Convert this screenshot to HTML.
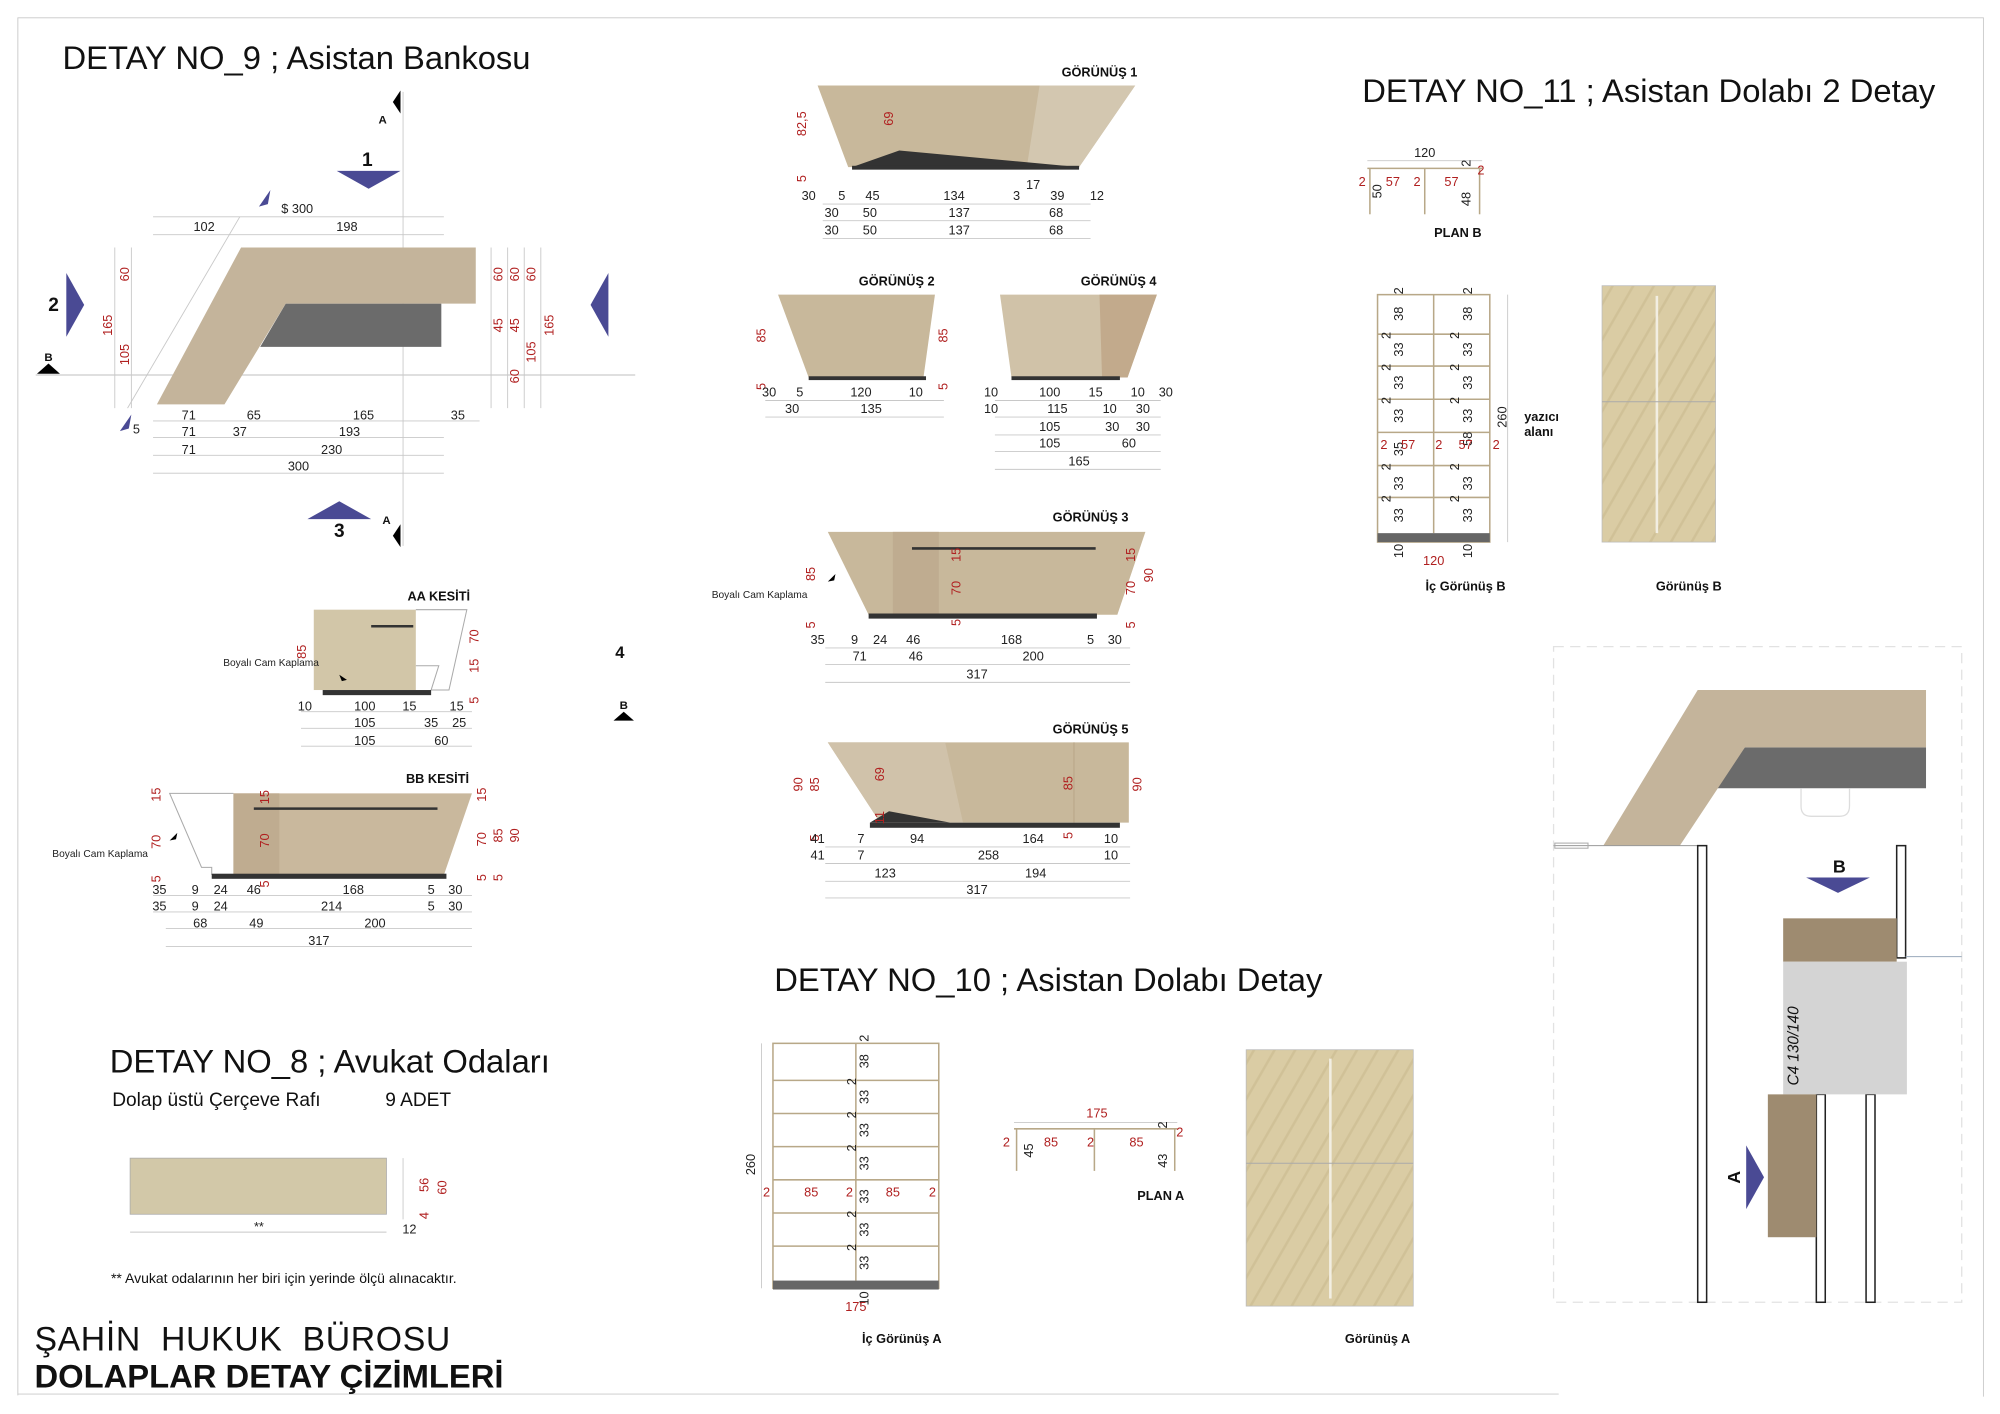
<!DOCTYPE html>
<html><head><meta charset="utf-8"><style>
html,body{margin:0;padding:0;background:#fff}
svg{display:block}
text{font-family:"Liberation Sans",sans-serif}
.d{font-size:10px;text-anchor:middle;fill:#222}
.r{font-size:10px;text-anchor:middle;fill:#b02020}
.b{font-size:10px;font-weight:bold;text-anchor:middle;fill:#111}
.t{font-size:25.7px;fill:#111}
.l{stroke:#c8c8c8;stroke-width:0.7;fill:none}
.bl{fill:#4a4a94}
</style></head><body>
<svg width="2000" height="1414" viewBox="0 0 1568 1108.6" preserveAspectRatio="none" xmlns="http://www.w3.org/2000/svg">
<rect x="0" y="0" width="1568" height="1109" fill="#fff"/>
<path d="M14,1094 V14 H1555 V1095" class="l"/>
<line x1="14" y1="1093" x2="1222" y2="1093" class="l"/>

<!-- DETAY 9 -->
<text x="49" y="54" class="t">DETAY NO_9 ; Asistan Bankosu</text>
<line x1="316" y1="72" x2="316" y2="428" class="l"/>
<line x1="28" y1="294" x2="498" y2="294" stroke="#ccc" stroke-width="1"/>
<polygon points="314,71 308,80 314,89" fill="#000"/><text x="300" y="97" class="b" style="font-size:9px">A</text>
<polygon points="314,411 308,420 314,429" fill="#000"/><text x="303" y="411" class="b" style="font-size:9px">A</text>
<text x="288" y="130" class="b" style="font-size:15px">1</text>
<polygon points="264,134 314,134 289,148" class="bl"/>
<text x="42" y="244" class="b" style="font-size:15px">2</text>
<polygon points="52,214 52,264 66,239" class="bl"/>
<polygon points="477,214 477,264 463,239" class="bl"/>
<polygon points="241,407 291,407 266,393" class="bl"/>
<text x="266" y="421" class="b" style="font-size:15px">3</text>
<polygon points="29,293 47,293 38,285" fill="#000"/><text x="38" y="283" class="b" style="font-size:9px">B</text>
<polygon points="224,238 346,238 346,272 204,272" fill="#6b6b6b"/>
<polygon points="123,317 189,194 373,194 373,238 224,238 176,317" fill="#c4b49b"/>
<line x1="100" y1="320" x2="188" y2="170" class="l"/>
<polygon points="203,162 212,149 210,160" class="bl"/><text x="233" y="167" class="d">$ 300</text>
<polygon points="94,338 103,325 101,336" class="bl"/><text x="107" y="340" class="d">5</text>
<line x1="120" y1="170" x2="348" y2="170" class="l"/><line x1="120" y1="184" x2="348" y2="184" class="l"/>
<text x="160" y="181" class="d">102</text><text x="272" y="181" class="d">198</text>
<line x1="120" y1="330" x2="376" y2="330" class="l"/><line x1="120" y1="343" x2="348" y2="343" class="l"/>
<line x1="120" y1="357" x2="348" y2="357" class="l"/><line x1="120" y1="371" x2="348" y2="371" class="l"/>
<text x="148" y="329" class="d">71</text><text x="199" y="329" class="d">65</text><text x="285" y="329" class="d">165</text><text x="359" y="329" class="d">35</text>
<text x="148" y="342" class="d">71</text><text x="188" y="342" class="d">37</text><text x="274" y="342" class="d">193</text>
<text x="148" y="356" class="d">71</text><text x="260" y="356" class="d">230</text>
<text x="234" y="369" class="d">300</text>
<line x1="90" y1="194" x2="90" y2="320" class="l"/><line x1="103" y1="194" x2="103" y2="320" class="l"/>
<g class="r">
<text transform="translate(101,215) rotate(-90)">60</text>
<text transform="translate(88,255) rotate(-90)">165</text>
<text transform="translate(101,278) rotate(-90)">105</text>
<text transform="translate(394,215) rotate(-90)">60</text>
<text transform="translate(407,215) rotate(-90)">60</text>
<text transform="translate(420,215) rotate(-90)">60</text>
<text transform="translate(394,255) rotate(-90)">45</text>
<text transform="translate(407,255) rotate(-90)">45</text>
<text transform="translate(420,276) rotate(-90)">105</text>
<text transform="translate(434,255) rotate(-90)">165</text>
<text transform="translate(407,295) rotate(-90)">60</text>
</g>
<line x1="385" y1="194" x2="385" y2="320" class="l"/><line x1="398" y1="194" x2="398" y2="320" class="l"/><line x1="411" y1="194" x2="411" y2="320" class="l"/><line x1="424" y1="194" x2="424" y2="320" class="l"/>

<!-- AA -->
<text x="344" y="471" class="b">AA KESİTİ</text>
<rect x="246" y="478" width="80" height="63" fill="#d2c6a8"/>
<path d="M326,478 H366 L352,541 H338 L344,522 H326" fill="none" stroke="#aaa" stroke-width="0.8"/>
<line x1="291" y1="491" x2="324" y2="491" stroke="#333" stroke-width="2"/>
<rect x="253" y="541" width="85" height="4" fill="#333"/>
<text x="175" y="522" style="font-size:8px" fill="#222">Boyalı Cam Kaplama</text>
<polygon points="266,529 272,533 268,534" fill="#000"/>
<g class="r">
<text transform="translate(240,511) rotate(-90)">85</text>
<text transform="translate(375,499) rotate(-90)">70</text>
<text transform="translate(375,522) rotate(-90)">15</text>
<text transform="translate(375,549) rotate(-90)">5</text>
</g>
<line x1="236" y1="558" x2="370" y2="558" class="l"/><line x1="236" y1="571" x2="370" y2="571" class="l"/><line x1="236" y1="585" x2="370" y2="585" class="l"/>
<text x="239" y="557" class="d">10</text><text x="286" y="557" class="d">100</text><text x="321" y="557" class="d">15</text><text x="358" y="557" class="d">15</text>
<text x="286" y="570" class="d">105</text><text x="338" y="570" class="d">35</text><text x="360" y="570" class="d">25</text>
<text x="286" y="584" class="d">105</text><text x="346" y="584" class="d">60</text>
<text x="486" y="516" class="b" style="font-size:13px">4</text>
<polygon points="481,565 497,565 489,558" fill="#000"/><text x="489" y="556" class="b" style="font-size:9px">B</text>

<!-- BB -->
<text x="343" y="614" class="b">BB KESİTİ</text>
<polygon points="183,622 370,622 348,686 183,686" fill="#c9b89d"/>
<rect x="183" y="622" width="36" height="64" fill="#bfac90"/>
<path d="M183,622 H133 L158,680 H166 V686" fill="none" stroke="#aaa" stroke-width="0.8"/>
<line x1="199" y1="634" x2="343" y2="634" stroke="#333" stroke-width="2"/>
<rect x="166" y="685" width="184" height="4" fill="#333"/>
<text x="41" y="672" style="font-size:8px" fill="#222">Boyalı Cam Kaplama</text>
<polygon points="133,659 139,653 138,658" fill="#000"/>
<g class="r">
<text transform="translate(126,623) rotate(-90)">15</text>
<text transform="translate(126,660) rotate(-90)">70</text>
<text transform="translate(126,689) rotate(-90)">5</text>
<text transform="translate(211,625) rotate(-90)">15</text>
<text transform="translate(211,659) rotate(-90)">70</text>
<text transform="translate(211,693) rotate(-90)">5</text>
<text transform="translate(381,623) rotate(-90)">15</text>
<text transform="translate(381,658) rotate(-90)">70</text>
<text transform="translate(394,655) rotate(-90)">85</text>
<text transform="translate(407,655) rotate(-90)">90</text>
<text transform="translate(381,688) rotate(-90)">5</text>
<text transform="translate(394,688) rotate(-90)">5</text>
</g>
<line x1="120" y1="702" x2="370" y2="702" class="l"/><line x1="120" y1="715" x2="370" y2="715" class="l"/><line x1="130" y1="728" x2="370" y2="728" class="l"/><line x1="130" y1="742" x2="370" y2="742" class="l"/>
<text x="125" y="701" class="d">35</text><text x="153" y="701" class="d">9</text><text x="173" y="701" class="d">24</text><text x="199" y="701" class="d">46</text><text x="277" y="701" class="d">168</text><text x="338" y="701" class="d">5</text><text x="357" y="701" class="d">30</text>
<text x="125" y="714" class="d">35</text><text x="153" y="714" class="d">9</text><text x="173" y="714" class="d">24</text><text x="260" y="714" class="d">214</text><text x="338" y="714" class="d">5</text><text x="357" y="714" class="d">30</text>
<text x="157" y="727" class="d">68</text><text x="201" y="727" class="d">49</text><text x="294" y="727" class="d">200</text>
<text x="250" y="741" class="d">317</text>

<!-- DETAY 8 -->
<text x="86" y="841" class="t">DETAY NO_8 ; Avukat Odaları</text>
<text x="88" y="867" style="font-size:15px" fill="#111">Dolap üstü Çerçeve Rafı</text>
<text x="302" y="867" style="font-size:15px" fill="#111">9 ADET</text>
<rect x="102" y="908" width="201" height="44" fill="#d2c8a8" stroke="#aaa" stroke-width="0.6"/>
<line x1="102" y1="966" x2="303" y2="966" class="l"/><text x="203" y="965" class="d">**</text>
<line x1="316" y1="908" x2="316" y2="956" class="l"/>
<g class="r"><text transform="translate(336,929) rotate(-90)">56</text><text transform="translate(350,931) rotate(-90)">60</text><text transform="translate(336,953) rotate(-90)">4</text></g>
<text x="321" y="967" class="d">12</text>
<text x="87" y="1006" style="font-size:11px" fill="#111">** Avukat odalarının her biri için yerinde ölçü alınacaktır.</text>
<text x="27" y="1059" style="font-size:26.5px;letter-spacing:0.5px" fill="#111" xml:space="preserve">ŞAHİN  HUKUK  BÜROSU</text>
<text x="27" y="1088" style="font-size:25.7px;font-weight:bold" fill="#111">DOLAPLAR DETAY ÇİZİMLERİ</text>

<!-- GORUNUS 1 -->
<text x="862" y="60" class="b">GÖRÜNÜŞ 1</text>
<polygon points="641,67 890,67 846,131 665,131" fill="#c8b89b"/>
<polygon points="815,67 890,67 846,131 805,131" fill="#d3c7b0"/>
<polygon points="668,131 705,118 846,131" fill="#333"/>
<rect x="668" y="130" width="178" height="3" fill="#333"/>
<g class="r"><text transform="translate(632,97) rotate(-90)">82,5</text><text transform="translate(700,93) rotate(-90)">69</text><text transform="translate(632,140) rotate(-90)">5</text></g>
<text x="810" y="148" class="d">17</text>
<text x="634" y="157" class="d">30</text><text x="660" y="157" class="d">5</text><text x="684" y="157" class="d">45</text><text x="748" y="157" class="d">134</text><text x="797" y="157" class="d">3</text><text x="829" y="157" class="d">39</text><text x="860" y="157" class="d">12</text>
<line x1="645" y1="160" x2="855" y2="160" class="l"/><line x1="645" y1="173" x2="855" y2="173" class="l"/><line x1="645" y1="187" x2="855" y2="187" class="l"/>
<text x="652" y="170" class="d">30</text><text x="682" y="170" class="d">50</text><text x="752" y="170" class="d">137</text><text x="828" y="170" class="d">68</text>
<text x="652" y="184" class="d">30</text><text x="682" y="184" class="d">50</text><text x="752" y="184" class="d">137</text><text x="828" y="184" class="d">68</text>

<!-- GORUNUS 2 -->
<text x="703" y="224" class="b">GÖRÜNÜŞ 2</text>
<polygon points="610,231 733,231 724,296 634,296" fill="#c8b89b"/>
<rect x="634" y="295" width="92" height="3" fill="#333"/>
<g class="r"><text transform="translate(600,263) rotate(-90)">85</text><text transform="translate(743,263) rotate(-90)">85</text><text transform="translate(600,303) rotate(-90)">5</text><text transform="translate(743,303) rotate(-90)">5</text></g>
<text x="603" y="311" class="d">30</text><text x="627" y="311" class="d">5</text><text x="675" y="311" class="d">120</text><text x="718" y="311" class="d">10</text>
<line x1="600" y1="314" x2="740" y2="314" class="l"/><line x1="600" y1="327" x2="740" y2="327" class="l"/>
<text x="621" y="324" class="d">30</text><text x="683" y="324" class="d">135</text>

<!-- GORUNUS 4 -->
<text x="877" y="224" class="b">GÖRÜNÜŞ 4</text>
<polygon points="784,231 907,231 884,296 793,296" fill="#d0c2a8"/>
<polygon points="862,231 907,231 884,296 864,296" fill="#c2aa8c"/>
<rect x="793" y="295" width="85" height="3" fill="#333"/>
<text x="777" y="311" class="d">10</text><text x="823" y="311" class="d">100</text><text x="859" y="311" class="d">15</text><text x="892" y="311" class="d">10</text><text x="914" y="311" class="d">30</text>
<text x="777" y="324" class="d">10</text><text x="829" y="324" class="d">115</text><text x="870" y="324" class="d">10</text><text x="896" y="324" class="d">30</text>
<text x="823" y="338" class="d">105</text><text x="872" y="338" class="d">30</text><text x="896" y="338" class="d">30</text>
<text x="823" y="351" class="d">105</text><text x="885" y="351" class="d">60</text>
<text x="846" y="365" class="d">165</text>
<line x1="780" y1="314" x2="910" y2="314" class="l"/><line x1="780" y1="327" x2="910" y2="327" class="l"/><line x1="780" y1="341" x2="910" y2="341" class="l"/><line x1="780" y1="354" x2="910" y2="354" class="l"/><line x1="780" y1="368" x2="910" y2="368" class="l"/>

<!-- GORUNUS 3 -->
<text x="855" y="409" class="b">GÖRÜNÜŞ 3</text>
<polygon points="649,417 898,417 876,482 681,482" fill="#c8b89b"/>
<rect x="700" y="417" width="36" height="65" fill="#bfac90"/>
<line x1="715" y1="430" x2="859" y2="430" stroke="#333" stroke-width="2"/>
<rect x="681" y="481" width="179" height="4" fill="#333"/>
<text x="558" y="469" style="font-size:8px" fill="#222">Boyalı Cam Kaplama</text>
<polygon points="649,456 655,450 654,455" fill="#000"/>
<g class="r">
<text transform="translate(639,450) rotate(-90)">85</text><text transform="translate(753,435) rotate(-90)">15</text><text transform="translate(753,461) rotate(-90)">70</text><text transform="translate(753,488) rotate(-90)">5</text>
<text transform="translate(890,435) rotate(-90)">15</text><text transform="translate(890,461) rotate(-90)">70</text><text transform="translate(904,451) rotate(-90)">90</text><text transform="translate(890,490) rotate(-90)">5</text><text transform="translate(639,490) rotate(-90)">5</text>
</g>
<text x="641" y="505" class="d">35</text><text x="670" y="505" class="d">9</text><text x="690" y="505" class="d">24</text><text x="716" y="505" class="d">46</text><text x="793" y="505" class="d">168</text><text x="855" y="505" class="d">5</text><text x="874" y="505" class="d">30</text>
<text x="674" y="518" class="d">71</text><text x="718" y="518" class="d">46</text><text x="810" y="518" class="d">200</text>
<text x="766" y="532" class="d">317</text>
<line x1="647" y1="508" x2="886" y2="508" class="l"/><line x1="647" y1="521" x2="886" y2="521" class="l"/><line x1="647" y1="535" x2="886" y2="535" class="l"/>

<!-- GORUNUS 5 -->
<text x="855" y="575" class="b">GÖRÜNÜŞ 5</text>
<polygon points="649,582 885,582 885,645 690,645" fill="#c8b89b"/>
<polygon points="649,582 741,582 755,645 690,645" fill="#d0c2aa"/>
<line x1="842" y1="582" x2="842" y2="645" stroke="#b8a688" stroke-width="0.8"/>
<polygon points="682,645 697,636 745,645" fill="#333"/>
<rect x="682" y="645" width="196" height="4" fill="#333"/>
<g class="r">
<text transform="translate(629,615) rotate(-90)">90</text><text transform="translate(642,615) rotate(-90)">85</text><text transform="translate(693,607) rotate(-90)">69</text><text transform="translate(693,641) rotate(-90)">11</text>
<text transform="translate(841,614) rotate(-90)">85</text><text transform="translate(895,615) rotate(-90)">90</text><text transform="translate(642,657) rotate(-90)">5</text><text transform="translate(841,655) rotate(-90)">5</text>
</g>
<text x="641" y="661" class="d">41</text><text x="675" y="661" class="d">7</text><text x="719" y="661" class="d">94</text><text x="810" y="661" class="d">164</text><text x="871" y="661" class="d">10</text>
<text x="641" y="674" class="d">41</text><text x="675" y="674" class="d">7</text><text x="775" y="674" class="d">258</text><text x="871" y="674" class="d">10</text>
<text x="694" y="688" class="d">123</text><text x="812" y="688" class="d">194</text>
<text x="766" y="701" class="d">317</text>
<line x1="647" y1="664" x2="886" y2="664" class="l"/><line x1="647" y1="677" x2="886" y2="677" class="l"/><line x1="647" y1="691" x2="886" y2="691" class="l"/><line x1="647" y1="704" x2="886" y2="704" class="l"/>

<!-- DETAY 10 -->
<text x="607" y="777" class="t">DETAY NO_10 ; Asistan Dolabı Detay</text>
<g fill="none" stroke="#b8a888" stroke-width="1.2">
<rect x="606" y="818" width="130" height="192"/>
<line x1="671" y1="818" x2="671" y2="1004"/>
<line x1="606" y1="847" x2="736" y2="847"/><line x1="606" y1="873" x2="736" y2="873"/><line x1="606" y1="899" x2="736" y2="899"/><line x1="606" y1="925" x2="736" y2="925"/><line x1="606" y1="951" x2="736" y2="951"/><line x1="606" y1="977" x2="736" y2="977"/>
</g>
<rect x="606" y="1004" width="130" height="7" fill="#666"/>
<g class="d">
<text transform="translate(681,814) rotate(-90)">2</text><text transform="translate(681,832) rotate(-90)">38</text>
<text transform="translate(671,848) rotate(-90)">2</text><text transform="translate(681,860) rotate(-90)">33</text>
<text transform="translate(671,874) rotate(-90)">2</text><text transform="translate(681,886) rotate(-90)">33</text>
<text transform="translate(671,900) rotate(-90)">2</text><text transform="translate(681,912) rotate(-90)">33</text>
<text transform="translate(681,938) rotate(-90)">33</text>
<text transform="translate(671,952) rotate(-90)">2</text><text transform="translate(681,964) rotate(-90)">33</text>
<text transform="translate(671,978) rotate(-90)">2</text><text transform="translate(681,990) rotate(-90)">33</text>
<text transform="translate(681,1018) rotate(-90)">10</text>
<text transform="translate(592,913) rotate(-90)">260</text>
</g>
<line x1="597" y1="818" x2="597" y2="1010" class="l"/>
<text x="601" y="938" class="r">2</text><text x="636" y="938" class="r">85</text><text x="666" y="938" class="r">2</text><text x="700" y="938" class="r">85</text><text x="731" y="938" class="r">2</text>
<text x="671" y="1028" class="r">175</text>
<text x="707" y="1053" class="b">İç Görünüş A</text>
<!-- PLAN A -->
<g fill="none" stroke="#b8a888" stroke-width="1.2">
<line x1="795" y1="885" x2="923" y2="885"/><line x1="797" y1="885" x2="797" y2="918"/><line x1="858" y1="885" x2="858" y2="918"/><line x1="921" y1="885" x2="921" y2="918"/>
</g>
<line x1="795" y1="880" x2="923" y2="880" class="l"/>
<text x="860" y="876" class="r">175</text>
<text x="789" y="899" class="r">2</text><text x="824" y="899" class="r">85</text><text x="855" y="899" class="r">2</text><text x="891" y="899" class="r">85</text><text x="925" y="891" class="r">2</text>
<g class="d"><text transform="translate(810,902) rotate(-90)">45</text><text transform="translate(915,910) rotate(-90)">43</text><text transform="translate(915,882) rotate(-90)">2</text></g>
<text x="910" y="941" class="b">PLAN A</text>
<!-- Gorunus A -->
<defs>
<pattern id="wood" width="14" height="14" patternUnits="userSpaceOnUse" patternTransform="rotate(-60)">
<rect width="14" height="14" fill="#dacca4"/><line x1="0" y1="3" x2="14" y2="3" stroke="#d0c197" stroke-width="2"/>
</pattern>
</defs>
<rect x="977" y="823" width="131" height="201" fill="url(#wood)" stroke="#bbb" stroke-width="0.6"/>
<line x1="1043" y1="830" x2="1043" y2="1018" stroke="#f2eee2" stroke-width="2"/>
<line x1="977" y1="912" x2="1108" y2="912" stroke="#aaa" stroke-width="0.8"/>
<text x="1080" y="1053" class="b">Görünüş A</text>

<!-- DETAY 11 -->
<text x="1068" y="80" class="t">DETAY NO_11 ; Asistan Dolabı 2 Detay</text>
<g fill="none" stroke="#b8a888" stroke-width="1.2">
<line x1="1072" y1="132" x2="1162" y2="132"/><line x1="1074" y1="132" x2="1074" y2="168"/><line x1="1117" y1="132" x2="1117" y2="168"/><line x1="1160" y1="132" x2="1160" y2="168"/>
</g>
<line x1="1072" y1="126" x2="1162" y2="126" class="l"/>
<text x="1117" y="123" class="d">120</text>
<text x="1068" y="146" class="r">2</text><text x="1092" y="146" class="r">57</text><text x="1111" y="146" class="r">2</text><text x="1138" y="146" class="r">57</text><text x="1161" y="137" class="r">2</text>
<g class="d"><text transform="translate(1083,150) rotate(-90)">50</text><text transform="translate(1153,156) rotate(-90)">48</text><text transform="translate(1153,128) rotate(-90)">2</text></g>
<text x="1143" y="186" class="b">PLAN B</text>
<g fill="none" stroke="#b8a888" stroke-width="1.2">
<rect x="1080" y="231" width="88" height="194"/>
<line x1="1124" y1="231" x2="1124" y2="418"/>
<line x1="1080" y1="262" x2="1168" y2="262"/><line x1="1080" y1="287" x2="1168" y2="287"/><line x1="1080" y1="313" x2="1168" y2="313"/><line x1="1080" y1="339" x2="1168" y2="339"/><line x1="1080" y1="365" x2="1168" y2="365"/><line x1="1080" y1="390" x2="1168" y2="390"/>
</g>
<rect x="1080" y="418" width="88" height="7" fill="#666"/>
<g class="d">
<text transform="translate(1100,228) rotate(-90)">2</text><text transform="translate(1100,246) rotate(-90)">38</text>
<text transform="translate(1090,263) rotate(-90)">2</text><text transform="translate(1100,274) rotate(-90)">33</text>
<text transform="translate(1090,288) rotate(-90)">2</text><text transform="translate(1100,300) rotate(-90)">33</text>
<text transform="translate(1090,314) rotate(-90)">2</text><text transform="translate(1100,326) rotate(-90)">33</text>
<text transform="translate(1100,352) rotate(-90)">35</text>
<text transform="translate(1090,366) rotate(-90)">2</text><text transform="translate(1100,379) rotate(-90)">33</text>
<text transform="translate(1090,391) rotate(-90)">2</text><text transform="translate(1100,404) rotate(-90)">33</text>
<text transform="translate(1100,432) rotate(-90)">10</text>
<text transform="translate(1154,228) rotate(-90)">2</text><text transform="translate(1154,246) rotate(-90)">38</text>
<text transform="translate(1144,263) rotate(-90)">2</text><text transform="translate(1154,274) rotate(-90)">33</text>
<text transform="translate(1144,288) rotate(-90)">2</text><text transform="translate(1154,300) rotate(-90)">33</text>
<text transform="translate(1144,314) rotate(-90)">2</text><text transform="translate(1154,326) rotate(-90)">33</text>
<text transform="translate(1154,344) rotate(-90)">58</text>
<text transform="translate(1144,366) rotate(-90)">2</text><text transform="translate(1154,379) rotate(-90)">33</text>
<text transform="translate(1144,391) rotate(-90)">2</text><text transform="translate(1154,404) rotate(-90)">33</text>
<text transform="translate(1154,432) rotate(-90)">10</text>
<text transform="translate(1181,327) rotate(-90)">260</text>
</g>
<line x1="1182" y1="231" x2="1182" y2="425" class="l"/>
<text x="1085" y="352" class="r">2</text><text x="1104" y="352" class="r">57</text><text x="1128" y="352" class="r">2</text><text x="1149" y="352" class="r">57</text><text x="1173" y="352" class="r">2</text>
<text x="1124" y="443" class="r">120</text>
<text x="1195" y="330" style="font-size:10px;font-weight:bold" fill="#111">yazıcı</text>
<text x="1195" y="342" style="font-size:10px;font-weight:bold" fill="#111">alanı</text>
<text x="1149" y="463" class="b">İç Görünüş B</text>
<rect x="1256" y="224" width="89" height="201" fill="url(#wood)" stroke="#bbb" stroke-width="0.6"/>
<line x1="1299" y1="232" x2="1299" y2="418" stroke="#f2eee2" stroke-width="2"/>
<line x1="1256" y1="315" x2="1345" y2="315" stroke="#aaa" stroke-width="0.8"/>
<text x="1324" y="463" class="b">Görünüş B</text>

<!-- right plan -->
<rect x="1218" y="507" width="320" height="514" fill="none" stroke="#e2e2e2" stroke-width="1" stroke-dasharray="8,5"/>
<polygon points="1368,586 1510,586 1510,618 1342,618" fill="#6b6b6b"/>
<polygon points="1257,663 1331,541 1510,541 1510,586 1368,586 1317,663" fill="#c4b49b"/>
<path d="M1412,618 v14 q0,8 8,8 h22 q8,0 8,-8 v-14" fill="none" stroke="#ddd" stroke-width="1"/>
<line x1="1218" y1="663" x2="1337" y2="663" stroke="#999" stroke-width="0.8"/>
<rect x="1219" y="661" width="26" height="4" fill="none" stroke="#aaa" stroke-width="0.8"/>
<g fill="#fff" stroke="#222" stroke-width="1.2">
<rect x="1331" y="663" width="7" height="358"/>
<rect x="1487" y="663" width="7" height="88"/>
<rect x="1424" y="858" width="7" height="163"/>
<rect x="1463" y="858" width="7" height="163"/>
</g>
<line x1="1494" y1="750" x2="1538" y2="750" stroke="#9ab" stroke-width="0.8"/>
<rect x="1398" y="720" width="89" height="34" fill="#9e8b70"/>
<rect x="1398" y="754" width="97" height="104" fill="#d4d4d4"/>
<rect x="1386" y="858" width="38" height="112" fill="#9e8b70"/>
<text x="1442" y="684" class="b" style="font-size:14px">B</text>
<polygon points="1416,688 1466,688 1441,700" class="bl"/>
<polygon points="1369,898 1369,948 1383,923" class="bl"/>
<text transform="translate(1364,923) rotate(-90)" class="b" style="font-size:14px">A</text>
<text transform="translate(1410,820) rotate(-90)" style="font-size:12px;font-style:italic;text-anchor:middle" fill="#111">C4 130/140</text>
</svg>
</body></html>
